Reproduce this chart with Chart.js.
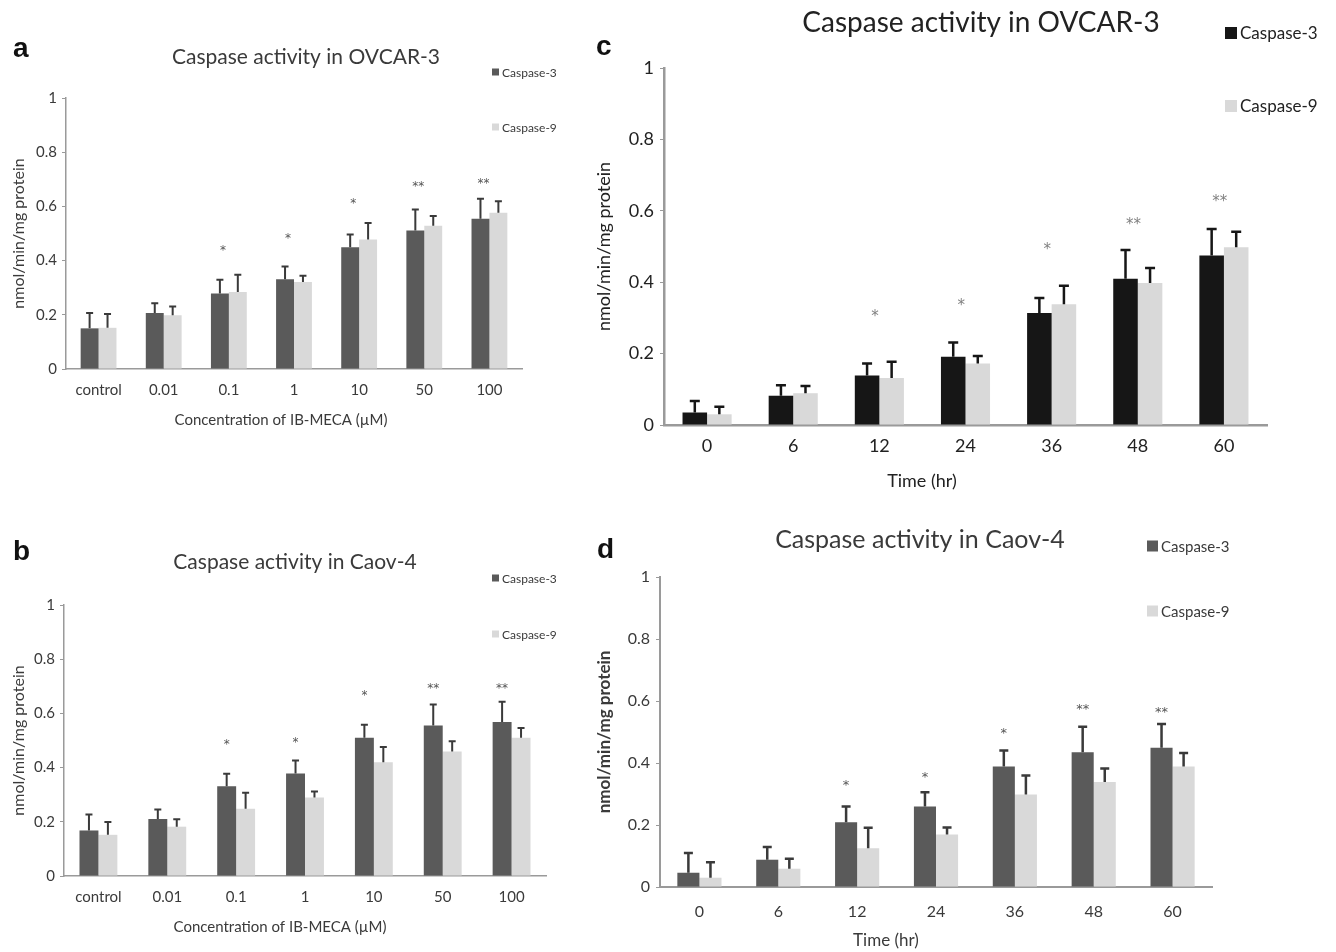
<!DOCTYPE html>
<html>
<head>
<meta charset="utf-8">
<script src="https://cdn.jsdelivr.net/npm/chart.js@4.4.1/dist/chart.umd.min.js"></script>
<style>
    body { margin: 0; background: #fff; width: 1336px; height: 952px; position: relative; overflow: hidden; }
    .panel { position: absolute; }
    .tag { position: absolute; font: bold 28px "Liberation Sans", Arial, sans-serif; color: #111; line-height: 1; }
</style>
</head>
<body>
<div class="panel" style="left:0;top:0"><canvas id="chartA" width="580" height="470"></canvas></div>
<div class="panel" style="left:0;top:480px"><canvas id="chartB" width="580" height="472"></canvas></div>
<div class="panel" style="left:580px;top:0"><canvas id="chartC" width="756" height="500"></canvas></div>
<div class="panel" style="left:580px;top:510px"><canvas id="chartD" width="756" height="442"></canvas></div>
<div class="tag" style="left:13px;top:34px">a</div>
<div class="tag" style="left:13px;top:537px">b</div>
<div class="tag" style="left:596px;top:32px">c</div>
<div class="tag" style="left:597px;top:535px">d</div>

<script>
// categories
const concLabels = ['control', '0.01', '0.1', '1', '10', '50', '100'];
const timeLabels = ['0', '6', '12', '24', '36', '48', '60'];

// a - OVCAR-3, concentration
const aCasp3 = [0.150, 0.207, 0.279, 0.331, 0.449, 0.511, 0.554];
const aCasp3Sd = [0.057, 0.036, 0.050, 0.047, 0.047, 0.078, 0.074];
const aCasp9 = [0.152, 0.198, 0.284, 0.321, 0.478, 0.529, 0.577];
const aCasp9Sd = [0.051, 0.033, 0.064, 0.023, 0.061, 0.036, 0.042];
const aStars = ['', '', '*', '*', '*', '**', '**'];
const aStarLevel = [0, 0, 0.435, 0.480, 0.608, 0.673, 0.683];

// b - Caov-4, concentration
const bCasp3 = [0.168, 0.210, 0.331, 0.378, 0.510, 0.555, 0.568];
const bCasp3Sd = [0.059, 0.035, 0.046, 0.048, 0.048, 0.078, 0.075];
const bCasp9 = [0.152, 0.182, 0.248, 0.290, 0.420, 0.459, 0.510];
const bCasp9Sd = [0.047, 0.027, 0.059, 0.022, 0.056, 0.038, 0.036];
const bStars = ['', '', '*', '*', '*', '**', '**'];
const bStarLevel = [0, 0, 0.485, 0.490, 0.663, 0.690, 0.690];

// c - OVCAR-3, time
const cCasp3 = [0.035, 0.082, 0.139, 0.191, 0.314, 0.410, 0.475];
const cCasp3Sd = [0.032, 0.029, 0.033, 0.040, 0.042, 0.080, 0.074];
const cCasp9 = [0.030, 0.089, 0.132, 0.172, 0.338, 0.398, 0.498];
const cCasp9Sd = [0.021, 0.020, 0.045, 0.021, 0.052, 0.042, 0.043];
const cStars = ['', '', '*', '*', '*', '**', '**'];
const cStarLevel = [0, 0, 0.301, 0.333, 0.490, 0.559, 0.625];

// d - Caov-4, time
const dCasp3 = [0.046, 0.088, 0.209, 0.260, 0.389, 0.435, 0.449];
const dCasp3Sd = [0.064, 0.041, 0.051, 0.046, 0.051, 0.082, 0.077];
const dCasp9 = [0.030, 0.059, 0.125, 0.169, 0.298, 0.339, 0.389];
const dCasp9Sd = [0.050, 0.032, 0.066, 0.023, 0.062, 0.043, 0.043];
const dStars = ['', '', '*', '*', '*', '**', '**'];
const dStarLevel = [0, 0, 0.328, 0.354, 0.496, 0.573, 0.563];

const FONT = 'Lato, "Open Sans", sans-serif';

// error bars, stars, title, x title and legend drawn on top of the bars
const decorPlugin = {
    id: 'decor',
    afterDatasetsDraw(chart, args, o) {
        const ctx = chart.ctx;
        const ys = chart.scales.y;
        ctx.save();
        chart.data.datasets.forEach((ds, di) => {
            const meta = chart.getDatasetMeta(di);
            ctx.strokeStyle = o.errColor;
            ctx.lineWidth = o.errWidth;
            meta.data.forEach((bar, i) => {
                const top = ys.getPixelForValue(ds.data[i] + ds.errors[i]);
                ctx.beginPath();
                ctx.moveTo(bar.x, bar.y);
                ctx.lineTo(bar.x, top);
                ctx.moveTo(bar.x - o.cap / 2, top);
                ctx.lineTo(bar.x + o.cap / 2, top);
                ctx.stroke();
            });
        });

        // significance marks
        const m0 = chart.getDatasetMeta(0);
        ctx.fillStyle = o.starColor;
        ctx.font = o.starSize + 'px "DejaVu Sans", sans-serif';
        ctx.textAlign = 'center';
        ctx.textBaseline = 'middle';
        o.stars.forEach((s, i) => {
            if (!s) return;
            ctx.fillText(s, m0.data[i].x + o.starDx, ys.getPixelForValue(o.starLevel[i]));
        });

        // title + x axis title
        ctx.fillStyle = o.textColor;
        ctx.font = o.titleSize + 'px ' + FONT;
        ctx.fillText(o.title, o.titleX, o.titleY);
        ctx.font = o.xTitleSize + 'px ' + FONT;
        ctx.fillText(o.xTitle, o.xTitleX, o.xTitleY);

        // legend
        ctx.textAlign = 'left';
        ctx.font = o.legendSize + 'px ' + FONT;
        chart.data.datasets.forEach((ds, di) => {
            const ly = o.legendY[di];
            ctx.fillStyle = ds.backgroundColor;
            ctx.fillRect(o.legendX, ly - o.legendBox / 2, o.legendBox, o.legendBox);
            ctx.fillStyle = o.textColor;
            ctx.fillText(ds.label, o.legendX + o.legendBox + 3, ly + 1);
        });
        ctx.restore();
    }
};

function makeChart(p) {
    const [ox, oy] = p.origin;
    const [w, h] = p.size;
    new Chart(document.getElementById(p.canvas), {
        type: 'bar',
        data: {
            labels: p.labels,
            datasets: [
                { label: 'Caspase-3', data: p.casp3, errors: p.casp3Sd, backgroundColor: p.dark },
                { label: 'Caspase-9', data: p.casp9, errors: p.casp9Sd, backgroundColor: p.light }
            ]
        },
        options: {
            responsive: false,
            animation: false,
            devicePixelRatio: 1,
            layout: { padding: { left: p.padL, top: p.area.t - oy, right: w - (p.area.r - ox), bottom: 0 } },
            datasets: { bar: { categoryPercentage: p.catPct, barPercentage: 1, borderWidth: 0 } },
            plugins: {
                legend: { display: false },
                title: { display: false },
                tooltip: { enabled: false },
                decor: {
                    errColor: p.errColor, errWidth: p.errWidth, cap: p.cap,
                    stars: p.stars, starLevel: p.starLevel, starDx: p.starDx,
                    starColor: p.starColor, starSize: p.starSize,
                    textColor: p.textColor,
                    title: p.title, titleX: p.titlePos[0] - ox, titleY: p.titlePos[1] - oy, titleSize: p.titleSize,
                    xTitle: p.xTitle, xTitleX: p.xTitlePos[0] - ox, xTitleY: p.xTitlePos[1] - oy,
                    xTitleSize: p.xTitleSize,
                    legendX: p.legendX - ox, legendY: p.legendY.map(v => v - oy),
                    legendBox: p.legendBox, legendSize: p.legendSize
                }
            },
            scales: {
                x: {
                    grid: { display: false, drawTicks: false },
                    border: { color: p.axisColor, width: p.axisWidth },
                    ticks: { padding: p.xTickPad, color: p.textColor, maxRotation: 0, autoSkip: false,
                             font: { family: FONT, size: p.tickSize } },
                    afterFit: s => { s.height = (oy + h) - p.area.b; }
                },
                y: {
                    min: 0, max: 1,
                    grid: { drawOnChartArea: false, tickLength: 4, color: p.axisColor },
                    border: { color: p.axisColor, width: p.axisWidth },
                    ticks: { stepSize: 0.2, padding: p.yTickPad, color: p.textColor,
                             font: { family: FONT, size: p.tickSize },
                             callback: v => String(Math.round(v * 10) / 10) },
                    title: { display: true, text: 'nmol/min/mg protein', color: p.textColor, padding: 0,
                             font: { family: FONT, size: p.yTitleSize, weight: p.yTitleBold ? 'bold' : 'normal' } },
                    afterFit: s => { s.width = p.area.l - ox - p.padL; }
                }
            }
        },
        plugins: [decorPlugin]
    });
}

const grayStyle = { dark: '#5a5a5a', light: '#d9d9d9', errColor: '#3a3a3a', axisColor: '#9a9a9a', textColor: '#3a3a3a' };

makeChart(Object.assign({}, grayStyle, {
    canvas: 'chartA', origin: [0, 0], size: [580, 470], area: { l: 66, t: 98, r: 522, b: 369 }, padL: 9,
    labels: concLabels, casp3: aCasp3, casp3Sd: aCasp3Sd, casp9: aCasp9, casp9Sd: aCasp9Sd,
    stars: aStars, starLevel: aStarLevel, starDx: 3, starColor: '#555', starSize: 12,
    catPct: 0.55, errWidth: 2, cap: 7, axisWidth: 1.5,
    tickSize: 15, xTickPad: 12, yTickPad: 5, yTitleSize: 16,
    title: 'Caspase activity in OVCAR-3', titlePos: [306, 57], titleSize: 21,
    xTitle: 'Concentration of IB-MECA (µM)', xTitlePos: [281, 420], xTitleSize: 15,
    legendX: 492, legendY: [72, 127], legendBox: 7, legendSize: 12
}));

makeChart(Object.assign({}, grayStyle, {
    canvas: 'chartB', origin: [0, 480], size: [580, 472], area: { l: 64, t: 605, r: 546, b: 876 }, padL: 9,
    labels: concLabels, casp3: bCasp3, casp3Sd: bCasp3Sd, casp9: bCasp9, casp9Sd: bCasp9Sd,
    stars: bStars, starLevel: bStarLevel, starDx: 0, starColor: '#555', starSize: 12,
    catPct: 0.55, errWidth: 2, cap: 7, axisWidth: 1.5,
    tickSize: 15, xTickPad: 12, yTickPad: 5, yTitleSize: 16,
    title: 'Caspase activity in Caov-4', titlePos: [295, 562], titleSize: 21,
    xTitle: 'Concentration of IB-MECA (µM)', xTitlePos: [280, 927], xTitleSize: 15,
    legendX: 492, legendY: [578, 634], legendBox: 7, legendSize: 12
}));

makeChart(Object.assign({}, grayStyle, {
    canvas: 'chartC', origin: [580, 0], size: [756, 500], area: { l: 664, t: 68, r: 1267, b: 425 }, padL: 13,
    dark: '#161616', errColor: '#161616', textColor: '#222',
    labels: timeLabels, casp3: cCasp3, casp3Sd: cCasp3Sd, casp9: cCasp9, casp9Sd: cCasp9Sd,
    stars: cStars, starLevel: cStarLevel, starDx: 8, starColor: '#808080', starSize: 15,
    catPct: 0.57, errWidth: 2.5, cap: 10, axisWidth: 2.5,
    tickSize: 18, xTickPad: 10, yTickPad: 6, yTitleSize: 18,
    title: 'Caspase activity in OVCAR-3', titlePos: [981, 23], titleSize: 28,
    xTitle: 'Time (hr)', xTitlePos: [922, 481], xTitleSize: 18,
    legendX: 1225, legendY: [33, 106], legendBox: 12, legendSize: 17
}));

makeChart(Object.assign({}, grayStyle, {
    canvas: 'chartD', origin: [580, 510], size: [756, 442], area: { l: 660, t: 577, r: 1212, b: 887 }, padL: 14,
    labels: timeLabels, casp3: dCasp3, casp3Sd: dCasp3Sd, casp9: dCasp9, casp9Sd: dCasp9Sd,
    stars: dStars, starLevel: dStarLevel, starDx: 0, starColor: '#555', starSize: 13,
    catPct: 0.56, errWidth: 2.5, cap: 9, axisWidth: 2,
    tickSize: 16, xTickPad: 15, yTickPad: 6, yTitleSize: 17, yTitleBold: true,
    title: 'Caspase activity in Caov-4', titlePos: [920, 540], titleSize: 25,
    xTitle: 'Time (hr)', xTitlePos: [886, 941], xTitleSize: 17,
    legendX: 1147, legendY: [546, 611], legendBox: 11, legendSize: 15
}));
</script>
</body>
</html>
